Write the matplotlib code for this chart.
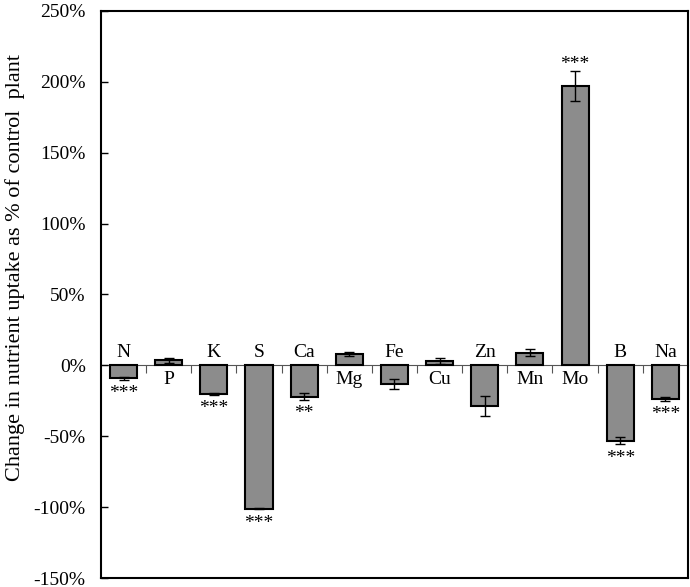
import matplotlib
matplotlib.use("Agg")
import matplotlib.pyplot as plt
import numpy as np

elements = ["N", "P", "K", "S", "Ca", "Mg", "Fe", "Cu", "Zn", "Mn", "Mo", "B", "Na"]
values = [-9, 3.5, -20, -101, -22, 8, -13, 3.3, -28.5, 9, 197, -53, -23.5]
errors = [1, 1.5, 0.6, 0.4, 2.3, 1.5, 3.6, 2.0, 7.0, 2.7, 10.5, 2.6, 1.5]
signif = ["***", "", "***", "***", "**", "", "", "", "", "", "***", "***", "***"]
yticks = [-150, -100, -50, 0, 50, 100, 150, 200, 250]

plt.rcParams['font.family'] = ['Liberation Serif', 'DejaVu Serif']

fig = plt.figure(figsize=(6.9, 5.87), dpi=100)
ax = fig.add_axes([0.1464, 0.0153, 0.8506, 0.9660])

x = np.arange(len(elements))
ax.bar(x, values, width=0.6, color='#8c8c8c', edgecolor='black', linewidth=1.5, zorder=3)
ax.errorbar(x, values, yerr=errors, fmt='none', ecolor='black', elinewidth=1, capsize=3.5, capthick=1, zorder=4)

for xi, v, e, lab, s in zip(x, values, errors, elements, signif):
    if v < 0:
        ax.text(xi, 3, lab, ha='center', va='bottom', fontsize=14)
        if s:
            ax.text(xi, v - e - 4, s, ha='center', va='top', fontsize=14)
    else:
        ax.text(xi, -4, lab, ha='center', va='top', fontsize=14)
        if s:
            ax.text(xi, v + e - 1, s, ha='center', va='bottom', fontsize=14)

ax.set_xlim(-0.5, len(elements) - 0.5)
ax.set_ylim(-150, 250)
ax.set_yticks(yticks)
ax.set_yticklabels([f"{t}%" for t in yticks], fontsize=14)
ax.tick_params(axis='y', direction='in', length=5, width=1, pad=11)
ax.set_xticks([])
ax.set_ylabel("Change in nutrient uptake as % of control  plant", fontsize=16)
ax.yaxis.set_label_coords(-0.1295, 0.548)

for sp in ax.spines.values():
    sp.set_linewidth(1.5)

sec = ax.secondary_xaxis(150 / 400)
sec.set_xticks(np.arange(len(elements) - 1) + 0.5)
sec.set_xticklabels([])
sec.tick_params(axis='x', direction='out', length=6, width=0.8, color='#555555')
sec.spines['bottom'].set_linewidth(0.8)
sec.spines['bottom'].set_color('#555555')

fig.savefig("out.png", dpi=100)
